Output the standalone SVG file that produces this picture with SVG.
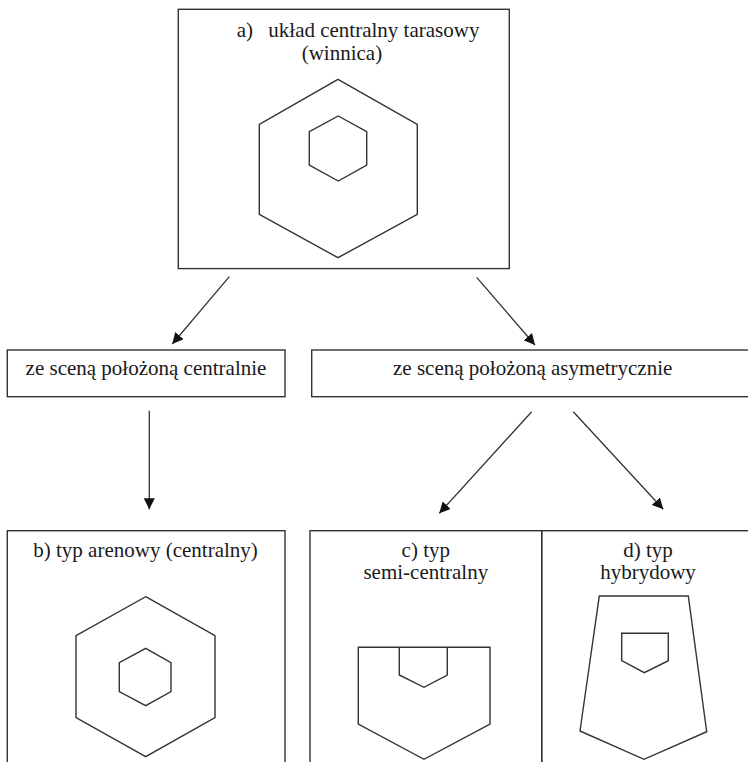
<svg xmlns="http://www.w3.org/2000/svg" width="748" height="762" viewBox="0 0 748 762">
<style>
.box{fill:none;stroke:#333;stroke-width:1.4}
.shape{fill:none;stroke:#333;stroke-width:1.4;stroke-linejoin:miter}
.lbl{font-size:21px;fill:#1a1a1a}
.mid{text-anchor:middle}
.conn{stroke:#333;stroke-width:1.3;fill:none}
</style>
<defs>
<marker id="arr" markerUnits="userSpaceOnUse" markerWidth="11" markerHeight="11" refX="11" refY="5.5" orient="auto" viewBox="0 0 11 11">
<path d="M0,0 L11,5.5 L0,11 z" fill="#111"/>
</marker>
</defs>
<rect width="748" height="762" fill="#fff"/>
<g font-family="'Liberation Serif', 'Times New Roman', 'DejaVu Serif', serif">
<g id="node-a">
<rect class="box" x="178.3" y="9.3" width="331" height="259.3"/>
<text class="lbl" y="37"><tspan x="236.7">a)</tspan><tspan x="268.3">układ centralny tarasowy</tspan></text>
<text class="lbl" x="301.7" y="60">(winnica)</text>
<polygon class="shape" points="338,79.3 417.3,124.3 417.3,214.3 338,257.7 259.3,214.3 259.3,124.3"/>
<polygon class="shape" points="338.3,116 366.7,131.7 366.7,165 338.3,181 309.3,165 309.3,131.7"/>
</g>
<g id="node-central">
<rect class="box" x="7.3" y="350" width="277.7" height="46.7"/>
<text class="lbl mid" x="146" y="375">ze sceną położoną centralnie</text>
</g>
<g id="node-asym">
<rect class="box" x="311.7" y="350" width="445" height="46.7"/>
<text class="lbl mid" x="532.7" y="375">ze sceną położoną asymetrycznie</text>
</g>
<g id="node-b">
<rect class="box" x="7.3" y="530.7" width="277.7" height="240"/>
<text class="lbl" x="33.3" y="557.3">b) typ arenowy (centralny)</text>
<polygon class="shape" points="145.7,596.7 215,635.7 215,717.7 145.7,756.7 76,717.7 76,635.7"/>
<polygon class="shape" points="145.7,648.3 171,662.7 171,691.7 145.7,705.7 119.3,691.7 119.3,662.7"/>
</g>
<g id="node-c">
<rect class="box" x="310" y="530.7" width="231.7" height="240"/>
<text class="lbl mid" x="425.8" y="557.3">c) typ</text>
<text class="lbl mid" x="425.8" y="579.3">semi-centralny</text>
<polygon class="shape" points="358.3,647.3 490,647.3 490,724 424,759.3 358.3,724"/>
<polyline class="shape" points="399.3,647.3 399.3,675 424,687.3 447.3,675 447.3,647.3"/>
</g>
<g id="node-d">
<rect class="box" x="541.7" y="530.7" width="215" height="240"/>
<text class="lbl mid" x="648" y="557.3">d) typ</text>
<text class="lbl mid" x="648" y="579.3">hybrydowy</text>
<polygon class="shape" points="599.3,596 688.3,596 706.7,731.7 644,759.3 580,731"/>
<polygon class="shape" points="621.7,633.3 668.3,633.3 668.3,660.7 644.3,672.7 621.7,660.7"/>
</g>
</g>
<g id="connectors">
<line class="conn" x1="229.3" y1="276.7" x2="172.3" y2="344" marker-end="url(#arr)"/>
<line class="conn" x1="476.7" y1="277.3" x2="535" y2="345" marker-end="url(#arr)"/>
<line class="conn" x1="149.3" y1="410.7" x2="149.3" y2="509.3" marker-end="url(#arr)"/>
<line class="conn" x1="531.7" y1="411.7" x2="439.3" y2="513.3" marker-end="url(#arr)"/>
<line class="conn" x1="573.3" y1="411.7" x2="663.3" y2="509.3" marker-end="url(#arr)"/>
</g>
</svg>
